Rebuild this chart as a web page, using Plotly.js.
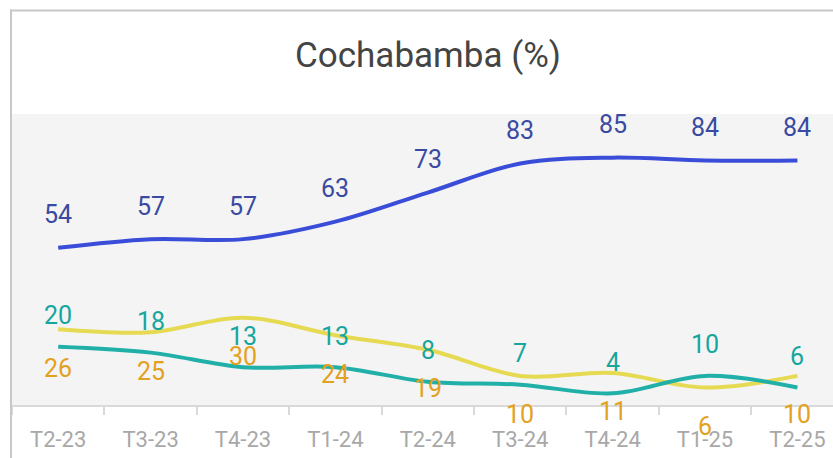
<!DOCTYPE html>
<html>
<head>
<meta charset="utf-8">
<script src="https://cdn.plot.ly/plotly-3.0.1.min.js"></script>
<style>
html,body{margin:0;padding:0;background:#fff;}
#chart{width:833px;height:458px;}
</style>
</head>
<body>
<div id="chart"></div>
<script>
const categories = ["T2-23","T3-23","T4-23","T1-24","T2-24","T3-24","T4-24","T1-25","T2-25"];
const blueValues = [54,57,57,63,73,83,85,84,84];
const tealValues = [20,18,13,13,8,7,4,10,6];
const yellowValues = [26,25,30,24,19,10,11,6,10];

const W = 833, H = 458;
const mL = 12, mR = 0, mT = 114, mB = 53;
const plotW = W - mL - mR, plotH = H - mT - mB;

function lineTrace(vals, color){
  return {
    type: 'scatter', mode: 'lines', x: categories, y: vals,
    line: {color: color, width: 4, shape: 'spline', smoothing: 1},
    hoverinfo: 'skip', showlegend: false
  };
}

const traces = [
  lineTrace(yellowValues, '#e5da52'),
  lineTrace(tealValues, '#21b0a8'),
  lineTrace(blueValues, '#3a4dd8')
];

const annotations = [];
function addLabels(vals, color, shift){
  vals.forEach((v, i) => {
    annotations.push({
      x: categories[i], y: v, xref: 'x', yref: 'y',
      text: String(v), showarrow: false,
      yshift: shift, xanchor: 'center', yanchor: 'middle',
      font: {family: 'Roboto, sans-serif', size: 25, color: color}
    });
  });
}
addLabels(blueValues, '#3a4aa2', 33);
addLabels(tealValues, '#16a69e', 31);
addLabels(yellowValues, '#e2a11f', -39);

const px2x = p => (p - mL) / plotW;
const py2y = p => 1 + (mT - p) / plotH;

const layout = {
  width: W, height: H,
  margin: {l: mL, r: mR, t: mT, b: mB, pad: 0},
  paper_bgcolor: '#ffffff',
  plot_bgcolor: '#f4f4f4',
  font: {family: 'Roboto, sans-serif'},
  title: {
    text: 'Cochabamba (%)',
    x: 428 / W, xref: 'container', xanchor: 'center',
    y: 1 - 55 / H, yref: 'container', yanchor: 'middle',
    font: {family: 'Roboto, sans-serif', size: 35, color: '#444444'}
  },
  xaxis: {
    type: 'category',
    range: [-0.5, 8.385],
    showgrid: false, zeroline: false,
    showline: true, linecolor: '#d9d9d9', linewidth: 2,
    ticks: 'outside', tickson: 'boundaries', ticklen: 8, tickwidth: 2, tickcolor: '#d9d9d9',
    ticklabelstandoff: 14,
    tickfont: {family: 'Roboto, sans-serif', size: 22, color: '#a8a8a8'},
    fixedrange: true
  },
  yaxis: {
    range: [0, 100],
    visible: false, showgrid: false, zeroline: false,
    fixedrange: true
  },
  shapes: [
    {type: 'line', xref: 'paper', yref: 'paper', x0: px2x(11), x1: px2x(11), y0: py2y(9.5), y1: py2y(470), line: {color: '#c8c8c8', width: 2}},
    {type: 'line', xref: 'paper', yref: 'paper', x0: px2x(10), x1: px2x(850), y0: py2y(10.5), y1: py2y(10.5), line: {color: '#c8c8c8', width: 2}}
  ],
  annotations: annotations,
  showlegend: false
};

Plotly.newPlot('chart', traces, layout, {displayModeBar: false, staticPlot: true});
</script>
</body>
</html>
